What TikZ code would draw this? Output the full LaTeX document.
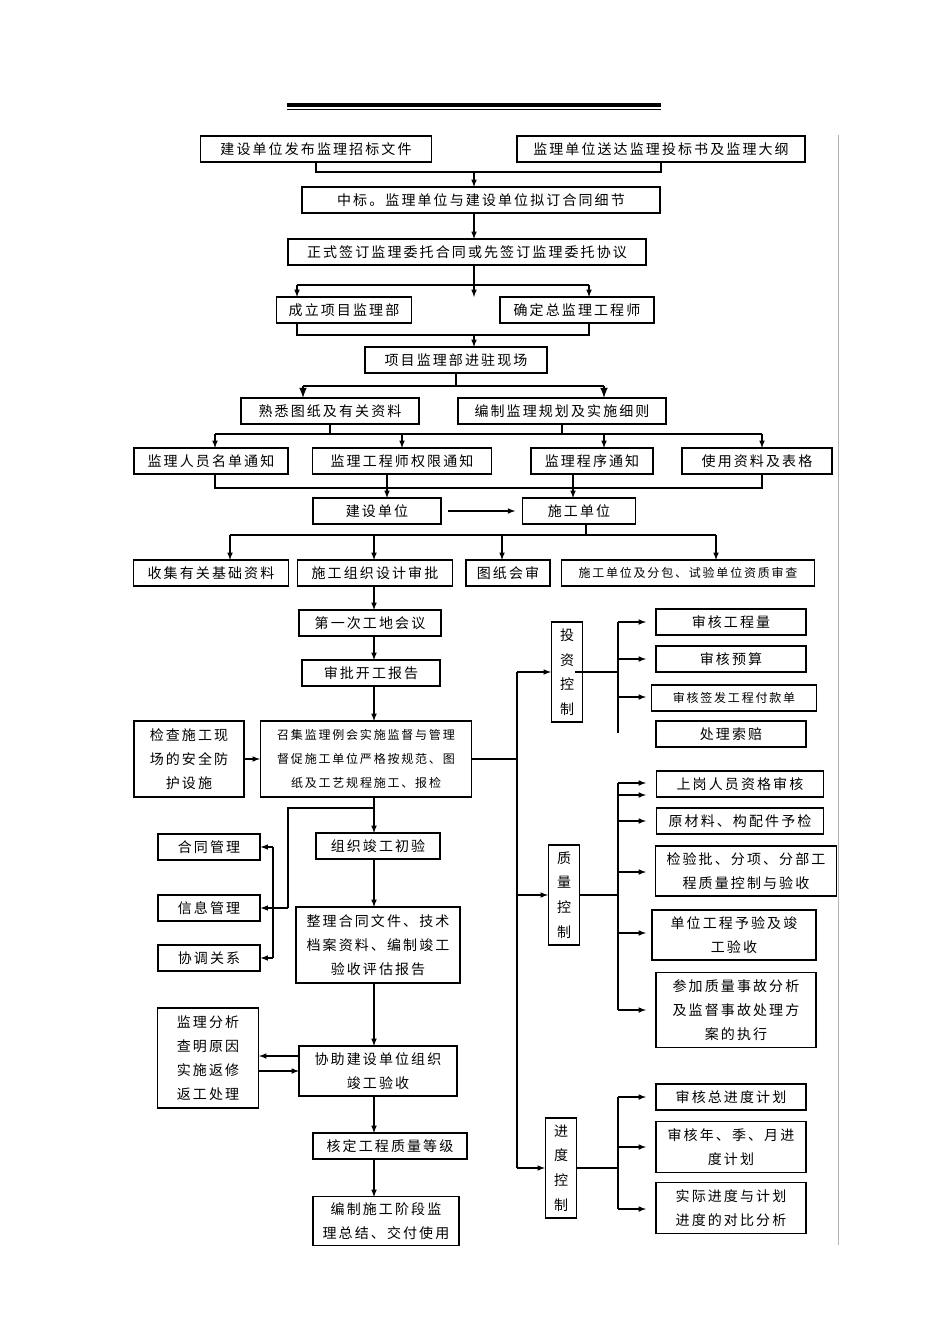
\documentclass[tikz,border=0pt]{standalone}
\usepackage{fontspec}
\setmainfont[LetterSpace=15]{Noto Sans CJK SC}
\usetikzlibrary{arrows}
\begin{document}
\begin{tikzpicture}[x=0.75pt,y=-0.75pt,line width=0.9pt]
			\tikzstyle{fleche}=[->,>=latex]
			\tikzstyle{boite}=[draw,inner sep=1pt,align=center,font=\fontsize{10.5}{18}\selectfont,minimum height=26*0.75pt]
			\tikzstyle{petit}=[font=\fontsize{9}{18}\selectfont]
			\tikzstyle{vert}=[boite,minimum width=31*0.75pt,minimum height=100*0.75pt,font=\fontsize{10.5}{18.5}\selectfont]
			\tikzset{w/.style={minimum width=#1*0.75pt},h/.style={minimum height=#1*0.75pt}}
			\useasboundingbox (0,0) rectangle (950,1344);
			% titre
			\fill (287,103) rectangle (661,107);
			\draw[line width=0.6pt] (287,109.5) -- (661,109.5);
			\draw[gray!60,line width=0.6pt] (838,135) -- (838,1245);
			% partie centrale
			\node[boite,w=231] (Pub) at (316,149) {建设单位发布监理招标文件};
			\node[boite,w=288] (Off) at (661,149) {监理单位送达监理投标书及监理大纲};
			\node[boite,w=358] (Zb) at (481,200) {中标。监理单位与建设单位拟订合同细节};
			\node[boite,w=358] (Qy) at (467,252) {正式签订监理委托合同或先签订监理委托协议};
			\node[boite,w=135] (Bu) at (344,310) {成立项目监理部};
			\node[boite,w=154] (Zj) at (577,310) {确定总监理工程师};
			\node[boite,w=182] (Jz) at (456,360) {项目监理部进驻现场};
			\node[boite,w=178] (Tz) at (330,411) {熟悉图纸及有关资料};
			\node[boite,w=208] (Gh) at (562,411) {编制监理规划及实施细则};
			\node[boite,w=154] (Ry) at (211,461) {监理人员名单通知};
			\node[boite,w=179] (Qx) at (402,461) {监理工程师权限通知};
			\node[boite,w=122] (Cx) at (592,461) {监理程序通知};
			\node[boite,w=150] (Bg) at (757,461) {使用资料及表格};
			\node[boite,w=128] (Js) at (377,511) {建设单位};
			\node[boite,w=113] (Sg) at (579,511) {施工单位};
			\node[boite,w=155] (Sj) at (211,573) {收集有关基础资料};
			\node[boite,w=155] (Zz) at (375,573) {施工组织设计审批};
			\node[boite,w=84] (Hs) at (508,573) {图纸会审};
			\node[boite,petit,w=253] (Zs) at (688,573) {施工单位及分包、试验单位资质审查};
			\node[boite,w=142] (Hy) at (370,623) {第一次工地会议};
			\node[boite,w=138] (Kg) at (371,673) {审批开工报告};
			\node[boite,petit,w=211,h=76] (Lh) at (366,759) {召集监理例会实施监督与管理\\督促施工单位严格按规范、图\\纸及工艺规程施工、报检};
			\node[boite,w=110,h=76] (Aq) at (189,759) {检查施工现\\场的安全防\\护设施};
			\node[boite,w=102] (Ht) at (209,847) {合同管理};
			\node[boite,w=102] (Xx) at (209,908) {信息管理};
			\node[boite,w=102] (Xt) at (209,958) {协调关系};
			\node[boite,w=124] (Cy) at (378,846) {组织竣工初验};
			\node[boite,w=164,h=76] (Da) at (378,945) {整理合同文件、技术\\档案资料、编制竣工\\验收评估报告};
			\node[boite,w=158,h=50] (Ys) at (378,1071) {协助建设单位组织\\竣工验收};
			\node[boite,w=101,h=100] (Fx) at (208,1058) {监理分析\\查明原因\\实施返修\\返工处理};
			\node[boite,w=154] (Dj) at (390,1146) {核定工程质量等级};
			\node[boite,w=146,h=49] (Zj2) at (386,1221) {编制施工阶段监\\理总结、交付使用};
			% partie droite
			\node[vert] (Tk) at (567,672) {投\\资\\控\\制};
			\node[vert] (Zk) at (564,895) {质\\量\\控\\制};
			\node[vert] (Jk) at (561,1168) {进\\度\\控\\制};
			\node[boite,w=150] (Gl) at (731,622) {审核工程量};
			\node[boite,w=150] (Ys2) at (731,659) {审核预算};
			\node[boite,petit,w=165] (Fk) at (734,698) {审核签发工程付款单};
			\node[boite,w=150] (Sp) at (731,734) {处理索赔};
			\node[boite,w=167] (Zg) at (740,784) {上岗人员资格审核};
			\node[boite,w=167] (Yc) at (740,821) {原材料、构配件予检};
			\node[boite,w=181,h=50] (Fb) at (746,871) {检验批、分项、分部工\\程质量控制与验收};
			\node[boite,w=164,h=50] (Dw) at (734,935) {单位工程予验及竣\\工验收};
			\node[boite,w=160,h=75] (Sgu) at (736,1010) {参加质量事故分析\\及监督事故处理方\\案的执行};
			\node[boite,w=150] (Zjd) at (731,1097) {审核总进度计划};
			\node[boite,w=150,h=51] (Nj) at (731,1147) {审核年、季、月进\\度计划};
			\node[boite,w=150,h=51] (Db) at (731,1208) {实际进度与计划\\进度的对比分析};
			% liaisons
			\draw (Pub.south) |- (474,172) -| (Off.south);
			\draw[fleche] (474,172) -- (474,187);
			\draw[fleche] (474,213) -- (474,239);
			\draw[fleche] (474,265) -- (474,297);
			\draw (297,285) -- (589,285);
			\draw[fleche] (297,285) -- (297,297);
			\draw[fleche] (589,285) -- (589,297);
			\draw (297,323) |- (589,335) -- (589,323);
			\draw[fleche] (474,335) -- (474,347);
			\draw (Jz.south) -- (456,386);
			\draw[line width=1.6pt] (303,386) -- (604,386);
			\draw[fleche,line width=1.6pt] (303,386) -- (303,398);
			\draw[fleche,line width=1.6pt] (604,386) -- (604,398);
			\draw (Tz.south) -- (330,434);
			\draw (Gh.south) -- (562,434);
			\draw (215,434) -- (762,434);
			\foreach \x in {215,402,604,762} \draw[fleche] (\x,434) -- (\x,448);
			\draw (215,474) |- (762,488) -- (762,474);
			\draw[fleche] (387,474) -- (387,498);
			\draw[fleche] (573,474) -- (573,498);
			\draw[fleche,shorten <=5pt,shorten >=5pt] (Js) -- (Sg);
			\draw (586,524) -- (586,535);
			\draw (230,535) -- (716,535);
			\foreach \x in {230,374,502,716} \draw[fleche] (\x,535) -- (\x,560);
			\draw[fleche] (374,586) -- (374,610);
			\draw[fleche] (374,636) -- (374,660);
			\draw[fleche] (374,686) -- (374,721);
			\draw[fleche] (Aq) -- (Lh);
			\draw[fleche] (374,797) -- (374,833);
			\draw (374,808) -| (288,908);
			\draw[fleche] (288,908) -- (Xx.east);
			\draw (273,847) -- (273,958);
			\draw[fleche] (273,847) -- (Ht.east);
			\draw[fleche] (273,958) -- (Xt.east);
			\draw[fleche] (374,860) -- (374,907);
			\draw[fleche] (374,983) -- (374,1046);
			\draw[fleche] (299,1056) -- (259,1056);
			\draw[fleche] (259,1071) -- (299,1071);
			\draw[fleche] (374,1096) -- (374,1133);
			\draw[fleche] (374,1159) -- (374,1197);
			% controle
			\draw (Lh.east) -- (517,759);
			\draw (517,672) -- (517,1168);
			\draw[fleche] (517,672) -- (Tk.west);
			\draw[fleche] (517,895) -- (Zk.west);
			\draw[fleche] (517,1168) -- (Jk.west);
			\draw (575,672) -- (618,672);
			\draw (618,622) -- (618,733);
			\foreach \y in {622,659,697} \draw[fleche] (618,\y) -- (646,\y);
			\draw (Zk.east) -- (618,895);
			\draw (618,783) -- (618,1010);
			\foreach \y in {783,795,821,872,933,1010} \draw[fleche] (618,\y) -- (646,\y);
			\draw (Jk.east) -- (618,1168);
			\draw (618,1097) -- (618,1209);
			\foreach \y in {1097,1147,1209} \draw[fleche] (618,\y) -- (646,\y);
\end{tikzpicture}
\end{document}
